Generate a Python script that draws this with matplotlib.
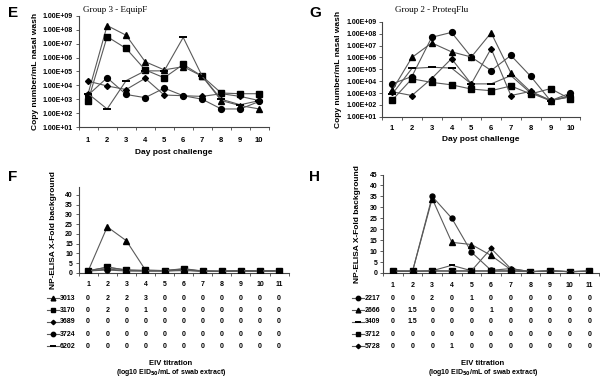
import matplotlib
matplotlib.use("Agg")
import matplotlib.pyplot as plt
from matplotlib.lines import Line2D
import numpy as np

plt.rcParams['font.family'] = ['Liberation Sans', 'DejaVu Sans']
plt.rcParams['font.weight'] = 'bold'

days = list(range(1, 11))
wells = list(range(1, 12))

# panel E - Group 3 EquipF, copy number / mL nasal wash
e_3013 = [2.5e3, 2e8, 4e7, 5e5, 1.3e5, 2.2e5, 4.5e4, 8e2, 3.5e2, 2e2]
e_3170 = [8e2, 3.2e7, 4.5e6, 1.3e5, 3.5e4, 3.2e5, 4.5e4, 2.8e3, 2.5e3, 2.5e3]
e_3689 = [2e4, 9e3, 5e3, 3.2e4, 2e3, 1.8e3, 1.6e3, 2.5e3, 1.6e3, 8e2]
e_3724 = [2e3, 3.5e4, 2.2e3, 1.3e3, 6.3e3, 1.8e3, 1e3, 2e2, 2e2, 7e2]
e_6202 = [2.5e3, 2e2, 2.2e4, 1.1e5, 1.1e5, 2.8e7, 4.5e4, 1e3, 4e2, 8e2]

# panel G - Group 2 ProteqFlu
g_2217 = [6e3, 2.5e4, 5e7, 1.3e8, 1.1e6, 8e4, 1.5e6, 2.6e4, 2.3e2, 1e3]
g_2666 = [1.7e3, 1e6, 1.7e7, 3e6, 1.1e6, 1.2e8, 5e4, 1.3e3, 2.3e2, 5e2]
g_3409 = [8e2, 1.2e5, 1.5e5, 1.3e5, 6e3, 6e3, 3e4, 1e3, 2.3e2, 6e2]
g_3712 = [2.5e2, 1.6e4, 8e3, 5e3, 2.2e3, 1.6e3, 4e3, 8.5e2, 2.4e3, 3.2e2]
g_5728 = [1.3e3, 6.3e2, 1.7e4, 8e5, 6e3, 5.6e6, 6.3e2, 1.4e3, 2.5e2, 4.8e2]

# panel F - NP-ELISA fold over background
f_3013 = [1, 23.6, 16.5, 1.5, 1.2, 1.5, 1, 0.8, 1, 0.9, 1.1]
f_3170 = [1.2, 2.9, 1.5, 1.3, 1.2, 2, 0.9, 0.8, 1.2, 0.9, 1.2]
f_3689 = [1, 2, 1.2, 1, 1, 1.5, 0.9, 0.8, 1, 0.9, 1]
f_3724 = [1, 1.5, 1, 1, 1, 1.2, 0.9, 0.8, 1, 0.9, 1]
f_6202 = [1, 3, 1.5, 1.2, 1.2, 2.2, 1, 0.9, 1.2, 1, 1.2]

# panel H
h_2217 = [0.8, 0.8, 35, 25, 9.5, 1.2, 2, 0.6, 0.9, 0.6, 0.8]
h_2666 = [0.8, 0.8, 34, 14, 13, 8, 1.5, 0.6, 0.9, 0.6, 0.8]
h_3409 = [0.8, 0.8, 1, 3.5, 1, 1, 1, 0.6, 0.9, 0.6, 0.8]
h_3712 = [0.8, 0.8, 0.8, 0.8, 0.8, 0.8, 0.8, 0.6, 0.9, 0.6, 0.8]
h_5728 = [0.8, 0.8, 1, 1, 1, 11.2, 2, 0.6, 0.9, 0.6, 0.8]

# EIV titration tables
f_ids = ['3013', '3170', '3689', '3724', '6202']
f_titr = [
    ['0', '2', '2', '3', '0', '0', '0', '0', '0', '0', '0'],
    ['0', '2', '0', '1', '0', '0', '0', '0', '0', '0', '0'],
    ['0'] * 11,
    ['0'] * 11,
    ['0'] * 11,
]
h_ids = ['2217', '2666', '3409', '3712', '5728']
h_titr = [
    ['0', '0', '2', '0', '1', '0', '0', '0', '0', '0', '0'],
    ['0', '1.5', '0', '0', '0', '1', '0', '0', '0', '0', '0'],
    ['0', '1.5', '0', '0', '0', '0', '0', '0', '0', '0', '0'],
    ['0'] * 11,
    ['0', '0', '0', '1', '0', '0', '0', '0', '0', '0', '0'],
]

LC = '#5a5a5a'
MK = {'tri': dict(marker='^', ms=4.5), 'sq': dict(marker='s', ms=4.5),
      'dia': dict(marker='D', ms=3.0), 'cir': dict(marker='o', ms=4.2),
      'dash': dict(marker='_', ms=5.5, mew=1.4)}


def draw(ax, x, y, kind, ms_scale=1.0):
    st = dict(MK[kind])
    st['ms'] = st['ms'] * ms_scale
    ax.plot(x, y, color=LC, lw=0.8, mfc='black', mec='black', zorder=3, **st)


def excel_axes(ax):
    for s in ['top', 'right']:
        ax.spines[s].set_visible(False)
    for s in ['left', 'bottom']:
        ax.spines[s].set_color('#444444')
        ax.spines[s].set_linewidth(0.8)
    ax.tick_params(direction='out', length=2, width=0.6, color='#444444', labelsize=5, pad=2)


fig = plt.figure(figsize=(6, 3.77), dpi=100)

# ---- E / G ----
for left, width, bottom, height, series, title, tx, letter, lx in [
    (0.131, 0.317, 0.663, 0.295, [(e_3013, 'tri'), (e_3170, 'sq'), (e_3689, 'dia'), (e_3724, 'cir'), (e_6202, 'dash')],
     'Group 3 - EquipF', 0.192, 'E', 0.013),
    (0.637, 0.330, 0.690, 0.252, [(g_2217, 'cir'), (g_2666, 'tri'), (g_3409, 'dash'), (g_3712, 'sq'), (g_5728, 'dia')],
     'Group 2 - ProteqFlu', 0.72, 'G', 0.515),
]:
    ax = fig.add_axes([left, bottom, width, height])
    for vals, kind in series:
        draw(ax, days, vals, kind)
    ax.set_yscale('log')
    ax.set_ylim(1e1, 1e9)
    ax.set_xlim(0.5, 10.5)
    ax.set_yticks([10.0 ** k for k in range(1, 10)])
    ax.set_yticklabels(['1.00E+%02d' % k for k in range(1, 10)])
    ax.minorticks_off()
    ax.set_xticks(np.arange(0.5, 10.6, 1))
    ax.set_xticklabels([])
    for d in days:
        ax.text(d, -0.09, str(d), transform=ax.get_xaxis_transform(), ha='center', va='top',
                fontsize=5.5, fontweight='bold')
    excel_axes(ax)
    ax.text(0.5, -0.2, 'Day post challenge', transform=ax.transAxes, ha='center', va='top',
            fontsize=6, fontweight='bold')
    ax.set_ylabel('Copy number/mL nasal wash', fontsize=6, fontweight='bold', labelpad=3)
    fig.text(tx, 0.985, title, ha='center', va='top', fontsize=6.5,
             family=['Liberation Serif', 'DejaVu Serif'], fontweight='normal')
    fig.text(lx, 0.965, letter, ha='left', va='center', fontsize=11, fontweight='bold')

# ---- F / H ----
for left, width, height, ymax, series, ids, titr, kinds, letter, lx, legx, labx in [
    (0.131, 0.350, 0.228, 44,
     [f_3013, f_3170, f_3689, f_3724, f_6202], f_ids, f_titr,
     ['tri', 'sq', 'dia', 'cir', 'dash'], 'F', 0.013, 0.079, 0.285),
    (0.6385, 0.360, 0.261, 45,
     [h_2217, h_2666, h_3409, h_3712, h_5728], h_ids, h_titr,
     ['cir', 'tri', 'dash', 'sq', 'dia'], 'H', 0.515, 0.587, 0.805),
]:
    bottom = 0.276
    ax = fig.add_axes([left, bottom, width, height])
    for vals, kind in zip(series, kinds):
        draw(ax, wells, vals, kind, ms_scale=0.85)
    ax.set_xlim(0.5, 11.5)
    ax.set_ylim(0, ymax)
    ax.set_yticks(range(0, 45 if ymax < 45 else 46, 5))
    ax.set_xticks(np.arange(0.5, 11.6, 1))
    ax.set_xticklabels([])
    for w in wells:
        ax.text(w, -0.09, str(w), transform=ax.get_xaxis_transform(), ha='center', va='top',
                fontsize=5, fontweight='bold')
    excel_axes(ax)
    ax.set_ylabel('NP-ELISA X-Fold background', fontsize=6, fontweight='bold', labelpad=6)
    fig.text(lx, 0.53, letter, ha='left', va='center', fontsize=11, fontweight='bold')

    trans = matplotlib.transforms.blended_transform_factory(ax.transData, fig.transFigure)
    row_y = [0.209, 0.177, 0.146, 0.114, 0.082]
    for i, (sid, row, kind) in enumerate(zip(ids, titr, kinds)):
        y = row_y[i]
        st = dict(MK[kind])
        st['ms'] = st['ms'] * 0.75
        fig.add_artist(Line2D([legx, legx + 0.01, legx + 0.02], [y, y, y], transform=fig.transFigure,
                              color=LC, lw=0.8, mfc='black', mec='black', markevery=[1], **st))
        fig.text(legx + 0.021, y, sid, ha='left', va='center', fontsize=5, fontweight='bold')
        for w, v in zip(wells, row):
            ax.text(w, y, v, transform=trans, ha='center', va='center', fontsize=5, fontweight='bold')
    fig.text(labx, 0.037, 'EIV titration', ha='center', va='center', fontsize=5.5, fontweight='bold')
    fig.text(labx, 0.013, '(log10 EID$_{50}$/mL of swab extract)', ha='center', va='center',
             fontsize=5, fontweight='bold')

fig.savefig('out.png', dpi=100)
